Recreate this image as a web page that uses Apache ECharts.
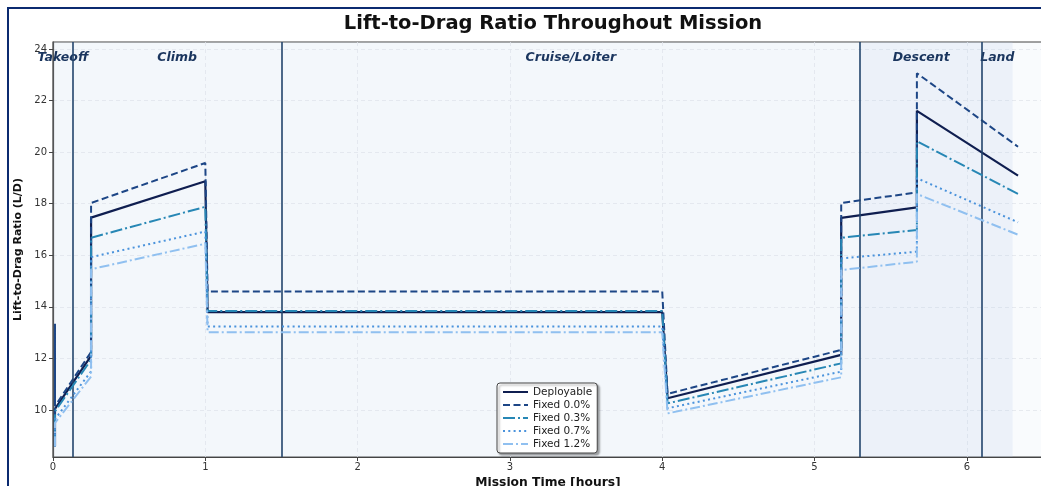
<!DOCTYPE html>
<html>
<head>
<meta charset="utf-8">
<script src="https://cdn.jsdelivr.net/npm/echarts@6/dist/echarts.min.js"></script>
<style>
html,body{margin:0;padding:0;background:#fff;}
#chart{width:1041px;height:486px;}
</style>
</head>
<body>
<div id="chart"></div>
<script>
// ---- data ----
const seriesNames = ['Deployable', 'Fixed 0.0%', 'Fixed 0.3%', 'Fixed 0.7%', 'Fixed 1.2%'];
const timeHours = [0.013, 0.013, 0.013, 0.25, 0.25, 1.0, 1.015, 4.0, 4.035, 5.175, 5.175, 5.672, 5.672, 6.336];
const deployable = [8.6, 10.05, 10.05, 12.1, 17.46, 18.87, 13.8, 13.8, 10.46, 12.14, 17.45, 17.86, 21.6, 19.09];
const fixed00 = [8.6, 13.35, 10.15, 12.25, 18.03, 19.58, 14.6, 14.6, 10.63, 12.33, 18.03, 18.44, 23.06, 20.21];
const fixed03 = [8.6, 9.95, 9.95, 11.95, 16.68, 17.88, 13.84, 13.84, 10.26, 11.81, 16.68, 16.98, 20.42, 18.38];
const fixed07 = [8.6, 9.65, 9.65, 11.5, 15.93, 16.92, 13.24, 13.24, 10.07, 11.49, 15.88, 16.14, 18.99, 17.28];
const fixed12 = [8.6, 9.5, 9.5, 11.3, 15.46, 16.45, 13.02, 13.02, 9.87, 11.27, 15.43, 15.75, 18.38, 16.8];
const phaseNames = ['Takeoff', 'Climb', 'Cruise/Loiter', 'Descent', 'Land'];
const phaseBounds = [0, 0.13, 1.5, 5.3, 6.1, 6.3];
const phaseDividers = [0.13, 1.5, 5.3, 6.1];
const xTicks = [0, 1, 2, 3, 4, 5, 6];
const yTicks = [10, 12, 14, 16, 18, 20, 22, 24];

// ---- styles ----
const FONT = 'DejaVu Sans';
const colors = ['#0f1e50', '#1d4686', '#2787b5', '#4b93dc', '#90c0f0'];
const dashes = ['solid', [7, 3.5], [12, 3, 2, 3], [2, 3.3], [10, 3, 2, 3]];
const phaseFill = ['rgba(205,220,240,0.12)', 'rgba(205,220,240,0.12)', 'rgba(205,220,240,0.12)', 'rgba(185,205,236,0.2)', 'rgba(185,205,236,0.2)'];

const allValues = [deployable, fixed00, fixed03, fixed07, fixed12];

const series = allValues.map((vals, i) => ({
  name: seriesNames[i],
  type: 'line',
  data: timeHours.map((t, k) => [t, vals[k]]),
  symbol: 'none',
  lineStyle: { color: colors[i], width: i === 0 ? 2.2 : 2, type: dashes[i], cap: 'butt' },
  itemStyle: { color: colors[i] },
  z: 3 + i,
  animation: false
}));

series[0].markArea = {
  silent: true,
  data: phaseNames.map((n, i) => [
    { xAxis: phaseBounds[i], name: n, itemStyle: { color: phaseFill[i] } },
    { xAxis: phaseBounds[i + 1] }
  ]),
  label: {
    show: true,
    position: 'insideTop',
    distance: 9,
    fontFamily: FONT,
    fontSize: 12.5,
    fontWeight: 'bold',
    fontStyle: 'italic',
    color: '#1a355e'
  }
};
series[0].markLine = {
  silent: true,
  symbol: 'none',
  label: { show: false },
  lineStyle: { color: '#22446c', width: 1.6, type: 'solid' },
  data: phaseDividers.map(x => ({ xAxis: x }))
};

const option = {
  animation: false,
  backgroundColor: '#ffffff',
  title: {
    text: 'Lift-to-Drag Ratio Throughout Mission',
    left: 548,
    top: 9,
    textAlign: 'center',
    textStyle: { fontFamily: FONT, fontSize: 19.5, fontWeight: 'bold', color: '#111' }
  },
  graphic: [{
    type: 'rect',
    shape: { x: 8, y: 8, width: 1200, height: 700 },
    style: { fill: 'none', stroke: '#0b2a70', lineWidth: 2 },
    silent: true,
    z: 100
  }],
  legend: {
    data: seriesNames,
    orient: 'vertical',
    left: 497,
    top: 383,
    itemWidth: 25,
    itemHeight: 10,
    itemGap: 1,
    padding: [3, 5, 3, 5],
    backgroundColor: '#ffffff',
    borderColor: '#444',
    borderWidth: 1,
    borderRadius: 3,
    shadowColor: 'rgba(0,0,0,0.35)',
    shadowBlur: 2,
    shadowOffsetX: 2,
    shadowOffsetY: 2,
    itemStyle: { opacity: 0 },
    textStyle: { fontFamily: FONT, fontSize: 10.5, color: '#222', lineHeight: 12 }
  },
  grid: {
    left: 53,
    right: -2,
    top: 42,
    bottom: 29,
    outerBoundsMode: 'none',
    containLabel: false,
    show: true,
    backgroundColor: '#f9fbfd',
    borderColor: '#444',
    borderWidth: 1.2
  },
  xAxis: {
    type: 'value',
    min: 0,
    max: 6.5,
    interval: 1,
    name: 'Mission Time [hours]',
    nameLocation: 'middle',
    nameGap: 13,
    nameTextStyle: { fontFamily: FONT, fontSize: 12.3, fontWeight: 'bold', color: '#111' },
    axisLine: { lineStyle: { color: '#444', width: 1.2 } },
    axisTick: { show: true, length: 4, lineStyle: { color: '#444' } },
    axisLabel: { fontFamily: FONT, fontSize: 10, color: '#333', margin: 5, showMaxLabel: false },
    splitLine: { show: true, lineStyle: { color: '#e2e6eb', type: [4, 3], width: 0.8 } }
  },
  yAxis: {
    type: 'value',
    min: 8.18,
    max: 24.27,
    name: 'Lift-to-Drag Ratio (L/D)',
    nameLocation: 'middle',
    nameGap: 27,
    nameTextStyle: { fontFamily: FONT, fontSize: 11, fontWeight: 'bold', color: '#111' },
    axisLine: { show: true, lineStyle: { color: '#444', width: 1.2 } },
    axisTick: { show: true, length: 4, lineStyle: { color: '#444' }, customValues: yTicks },
    axisLabel: { fontFamily: FONT, fontSize: 10, color: '#333', margin: 6, customValues: yTicks },
    splitLine: { show: true, lineStyle: { color: '#e2e6eb', type: [4, 3], width: 0.8 } }
  },
  series: series
};

const chart = echarts.init(document.getElementById('chart'), null, { renderer: 'canvas' });
chart.setOption(option);
</script>
</body>
</html>
